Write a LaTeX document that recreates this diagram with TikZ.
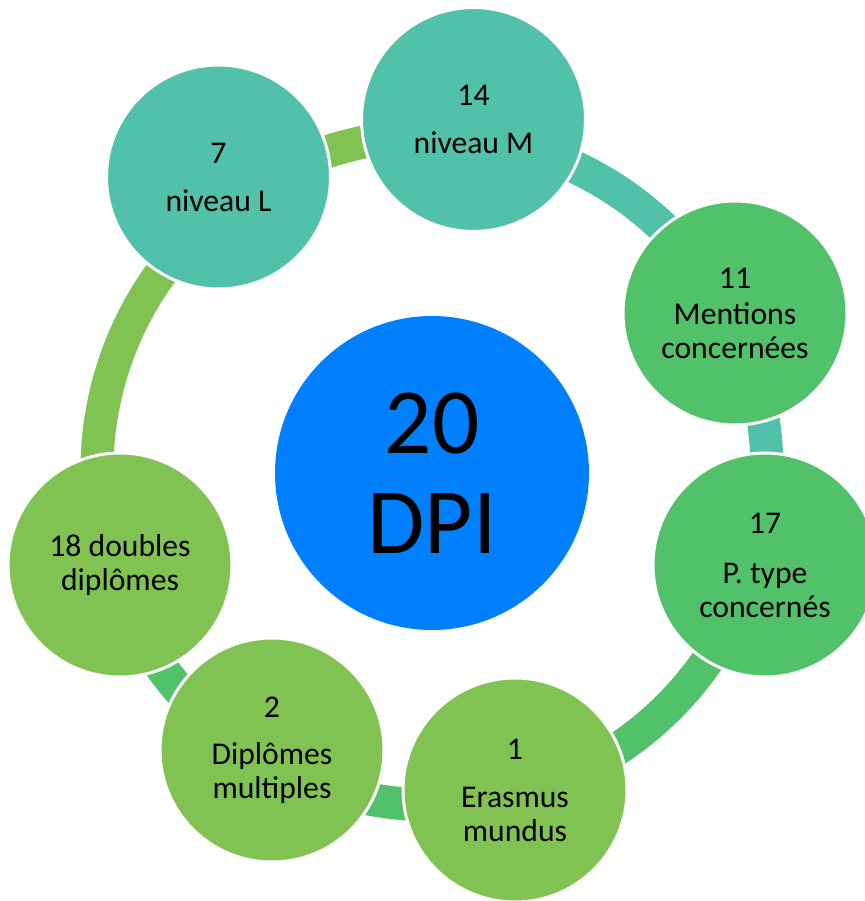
\documentclass[tikz,border=0pt]{standalone}
\usepackage{fontspec}
\setmainfont{Carlito}
\definecolor{tealc}{RGB}{82,193,169}
\definecolor{greenc}{RGB}{82,194,106}
\definecolor{lgreenc}{RGB}{128,195,82}
\definecolor{bluec}{RGB}{0,128,255}
\begin{document}
\begin{tikzpicture}[x=0.75pt,y=0.75pt,
  bubble/.style={circle, inner sep=0pt, minimum size=168pt, draw=white, line width=2.25pt,
    align=center, text=black, font=\fontsize{23.75}{25.5}\selectfont},
  conn/.style={line width=24.75pt, draw=#1}]
\useasboundingbox (0,0) rectangle (865,901);
\clip (0,0) rectangle (865,901);
\coordinate (O) at (432,431);
% connectors (ring arcs)
\draw[conn=lgreenc] (O) ++(126.1:335) arc[start angle=126.1, end angle=83.2, radius=335];
\draw[conn=tealc]   (O) ++(83.2:335) arc[start angle=83.2, end angle=27.4, radius=335];
\draw[conn=tealc]   (O) ++(27.4:335) arc[start angle=27.4, end angle=-15.9, radius=335];
\draw[conn=greenc]  (O) ++(-15.9:335) arc[start angle=-15.9, end angle=-75.5, radius=335];
\draw[conn=greenc]  (O) ++(-75.5:335) arc[start angle=-75.5, end angle=-119.7, radius=335];
\draw[conn=greenc]  (O) ++(-119.7:335) arc[start angle=-119.7, end angle=-163.1, radius=335];
\draw[conn=lgreenc] (O) ++(196.9:335) arc[start angle=196.9, end angle=126.1, radius=335];
% circles
\node[bubble, fill=tealc]   (c1) at (218.5,724) {7\\[10.5pt]niveau L};
\node[bubble, fill=tealc]   (c2) at (473.5,781.5) {14\\[10.5pt]niveau M};
\node[bubble, fill=greenc]  (c3) at (735,588) {11\\[1.5pt]Mentions\\concernées};
\node[bubble, fill=greenc]  (c4) at (765,336) {17\\[12pt]P. type\\concernés};
\node[bubble, fill=lgreenc] (c5) at (515,111) {1\\[10.5pt]Erasmus\\mundus};
\node[bubble, fill=lgreenc] (c6) at (272,151) {2\\[9.75pt]Diplômes\\multiples};
\node[bubble, fill=lgreenc] (c7) at (120,336) {18 doubles\\diplômes};
\node[circle, inner sep=0pt, minimum size=235.5pt, fill=bluec, align=center, text=black,
  font=\fontsize{70}{75}\selectfont] (ctr) at (432,428) {20\\DPI};
\end{tikzpicture}
\end{document}
